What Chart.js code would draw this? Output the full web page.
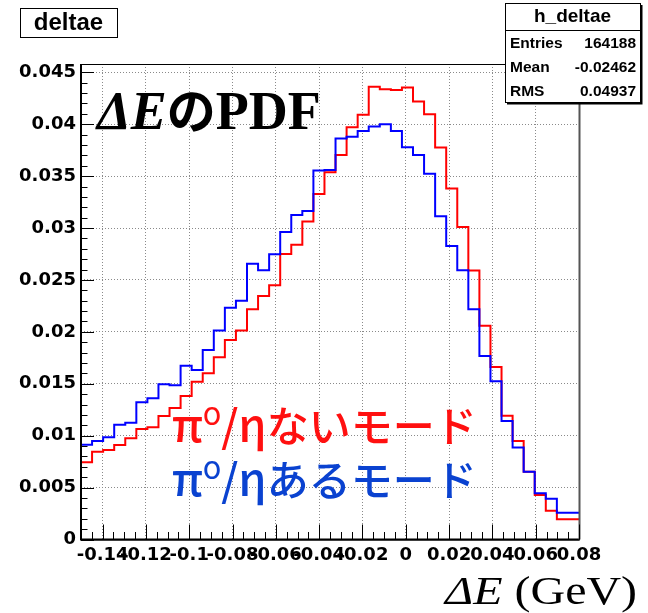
<!DOCTYPE html>
<html>
<head>
<meta charset="utf-8">
<script src="https://cdn.jsdelivr.net/npm/chart.js@4"></script>
<style>
  html, body { margin: 0; padding: 0; background: #fff; }
  canvas { display: block; }
</style>
</head>
<body>
<canvas id="deltae" width="648" height="613"></canvas>
<script>
// histogram binning (ROOT h_deltae): 45 bins from -0.15 to 0.08
const xMin = -0.15
const xMax = 0.08
const nBins = 45

// pi0/eta-less modes (red)
const noPi0Values = [
  0.00744, 0.00744, 0.00846, 0.00862, 0.0091, 0.00975, 0.01065, 0.01081, 0.0119, 0.01267,
  0.01382, 0.0152, 0.01601, 0.01755, 0.01922, 0.02012, 0.02218, 0.02346, 0.02449, 0.0275,
  0.0284, 0.03062, 0.03329, 0.03537, 0.03704, 0.03971, 0.0409, 0.04362, 0.04337, 0.0433,
  0.04353, 0.04218, 0.04096, 0.03775, 0.0338, 0.03011, 0.0259, 0.0206, 0.01662, 0.01193,
  0.00949, 0.00653, 0.00429, 0.00277, 0.00195
]
// pi0/eta modes (blue)
const withPi0Values = [
  0.00853, 0.00913, 0.00949, 0.00984, 0.01106, 0.01125, 0.01322, 0.0136, 0.01495, 0.01485,
  0.01674, 0.01633, 0.01826, 0.02012, 0.02233, 0.0230, 0.02657, 0.02593, 0.02748, 0.02962,
  0.03126, 0.03165, 0.03553, 0.0356, 0.03862, 0.0388, 0.03935, 0.03977, 0.04, 0.03935,
  0.03778, 0.03704, 0.03524, 0.03114, 0.02828, 0.02593, 0.02218, 0.01768, 0.01524, 0.01142,
  0.00885, 0.00653, 0.00445, 0.00393, 0.00258
]

const xTicks = [-0.14, -0.12, -0.1, -0.08, -0.06, -0.04, -0.02, 0, 0.02, 0.04, 0.06, 0.08]
const xTickLabels = ['-0.14', '-0.12', '-0.1', '-0.08', '-0.06', '-0.04', '-0.02', '0', '0.02', '0.04', '0.06', '0.08']
const yTicks = [0, 0.005, 0.01, 0.015, 0.02, 0.025, 0.03, 0.035, 0.04, 0.045]
const yTickLabels = ['0', '0.005', '0.01', '0.015', '0.02', '0.025', '0.03', '0.035', '0.04', '0.045']
const yMax = 0.0458

const statsRows = [['Entries', '164188'], ['Mean', '-0.02462'], ['RMS', '0.04937']]

// bin low edges + closing edge, for a stepped line
const binWidth = (xMax - xMin) / nBins
const toSteps = values => {
  const pts = values.map((v, i) => ({x: xMin + i * binWidth, y: v}))
  pts.push({x: xMax, y: values[values.length - 1]})
  return pts
}

const tickFont = {family: 'DejaVu Sans', weight: 'bold', size: 18}

// draw a run of differently styled text pieces, optionally stretched in x
const drawRuns = (ctx, x, y, runs, sx = 1) => {
  ctx.save()
  ctx.translate(x, y)
  ctx.scale(sx, 1)
  let cx = 0
  runs.forEach(r => {
    ctx.font = r.font
    ctx.fillStyle = r.color || '#000'
    ctx.fillText(r.text, cx, r.dy || 0)
    cx += ctx.measureText(r.text).width + (r.gap || 0)
  })
  ctx.restore()
}

const rootDecor = {
  id: 'rootDecor',
  beforeDraw(chart) {
    const ctx = chart.ctx
    ctx.save()
    ctx.fillStyle = '#fff'
    ctx.fillRect(0, 0, chart.width, chart.height)
    ctx.restore()
  },
  afterDatasetsDraw(chart) {
    const ctx = chart.ctx
    const {left, right, top, bottom} = chart.chartArea
    const xs = chart.scales.x
    const ys = chart.scales.y
    ctx.save()
    ctx.strokeStyle = '#000'
    // frame
    ctx.lineWidth = 1
    ctx.strokeRect(left + 0.5, top + 0.5, right - left, bottom - top)
    ctx.lineWidth = 2
    ctx.beginPath()
    ctx.moveTo(left, top); ctx.lineTo(left, bottom); ctx.lineTo(right, bottom)
    ctx.stroke()
    ctx.strokeStyle = '#555'
    ctx.beginPath()
    ctx.moveTo(right + 0.5, top); ctx.lineTo(right + 0.5, bottom)
    ctx.stroke()
    ctx.strokeStyle = '#000'
    // ticks drawn inward, ROOT style
    ctx.lineWidth = 1
    ctx.beginPath()
    for (let k = 0; k <= 46; k++) {
      const v = -0.15 + k * 0.005
      const px = Math.round(xs.getPixelForValue(v)) + 0.5
      const major = Math.abs(Math.round(v / 0.02) * 0.02 - v) < 1e-9
      ctx.moveTo(px, bottom)
      ctx.lineTo(px, bottom - (major ? 15 : 7.5))
    }
    for (let k = 0; k <= 45; k++) {
      const v = k * 0.001
      const py = Math.round(ys.getPixelForValue(v)) + 0.5
      ctx.moveTo(left, py)
      ctx.lineTo(left + (k % 5 === 0 ? 13 : 6.5), py)
    }
    ctx.stroke()

    // title box
    ctx.fillStyle = '#fff'
    ctx.fillRect(20, 8, 97, 29)
    ctx.strokeRect(20.5, 8.5, 97, 29)
    ctx.fillStyle = '#000'
    ctx.font = 'bold 24px "Liberation Sans"'
    ctx.textAlign = 'center'
    ctx.textBaseline = 'middle'
    ctx.fillText('deltae', 68.5, 23)

    // stats box
    ctx.fillStyle = '#fff'
    ctx.fillRect(505, 3, 135, 99)
    ctx.strokeRect(505.5, 3.5, 135, 99)
    ctx.lineWidth = 2
    ctx.beginPath()
    ctx.moveTo(507, 103.5); ctx.lineTo(641.5, 103.5); ctx.lineTo(641.5, 5)
    ctx.stroke()
    ctx.lineWidth = 1
    ctx.beginPath()
    ctx.moveTo(505, 30.5); ctx.lineTo(640, 30.5)
    ctx.stroke()
    ctx.fillStyle = '#000'
    ctx.font = 'bold 19px "Liberation Sans"'
    ctx.fillText('h_deltae', 572.5, 17)
    ctx.font = 'bold 15.5px "Liberation Sans"'
    statsRows.forEach((row, i) => {
      const cy = 44 + i * 24
      ctx.textAlign = 'left'
      ctx.fillText(row[0], 510, cy)
      ctx.textAlign = 'right'
      ctx.fillText(row[1], 636, cy)
    })

    // annotations
    ctx.textAlign = 'left'
    ctx.textBaseline = 'alphabetic'
    drawRuns(ctx, 97, 129, [
      {text: 'ΔE', font: 'italic bold 54px "Liberation Serif"'},
      {text: 'の', font: 'bold 49px "Noto Sans CJK JP"'},
      {text: 'PDF', font: 'bold 54px "Liberation Serif"'}
    ])
    const red = '#ff1010'
    const blue = '#0a42d0'
    const labelRuns = (color, kana) => [
      {text: 'π', font: '500 46px "Noto Sans CJK JP"', color},
      {text: 'O', font: '500 24px "Noto Sans CJK JP"', color, dy: -17},
      {text: '/', font: '500 44px "Noto Sans CJK JP"', color},
      {text: 'η', font: '500 46px "Noto Sans CJK JP"', color},
      {text: kana, font: '500 42px "Noto Sans CJK JP"', color}
    ]
    drawRuns(ctx, 172, 442, labelRuns(red, 'ないモード'))
    drawRuns(ctx, 172, 496, labelRuns(blue, 'あるモード'))

    // x axis title
    drawRuns(ctx, 445, 604, [
      {text: 'ΔE', font: 'italic 40px "Liberation Serif"'},
      {text: ' (GeV)', font: '40px "Liberation Serif"'}
    ], 1.2)
    ctx.restore()
  }
}

const ctx = document.querySelector('#deltae')
const deltaeChart = new Chart(ctx, {
  type: 'line',
  data: {
    datasets: [
      {
        label: 'π0/ηあるモード',
        data: toSteps(withPi0Values),
        borderColor: '#0000ff',
        borderWidth: 2,
        stepped: 'after',
        pointRadius: 0,
        fill: false
      },
      {
        label: 'π0/ηないモード',
        data: toSteps(noPi0Values),
        borderColor: '#ff0000',
        borderWidth: 2,
        stepped: 'after',
        pointRadius: 0,
        fill: false
      }
    ]
  },
  options: {
    responsive: false,
    animation: false,
    events: [],
    layout: {padding: {left: 0, right: 69, top: 64, bottom: 0}},
    plugins: {legend: {display: false}, tooltip: {enabled: false}},
    scales: {
      x: {
        type: 'linear',
        min: xMin,
        max: xMax,
        afterBuildTicks: s => { s.ticks = xTicks.map(v => ({value: v})) },
        afterFit: s => { s.height = 73.5 },
        ticks: {
          autoSkip: false,
          maxRotation: 0,
          padding: 5,
          color: '#000',
          font: tickFont,
          callback: v => xTickLabels[xTicks.findIndex(t => Math.abs(t - v) < 1e-9)]
        },
        grid: {color: '#8a8a8a', lineWidth: 1, drawTicks: false},
        border: {display: false, dash: [1, 2]}
      },
      y: {
        min: 0,
        max: yMax,
        afterBuildTicks: s => { s.ticks = yTicks.map(v => ({value: v})) },
        afterFit: s => { s.width = 81 },
        ticks: {
          padding: 5,
          color: '#000',
          font: tickFont,
          callback: v => yTickLabels[yTicks.findIndex(t => Math.abs(t - v) < 1e-9)]
        },
        grid: {color: '#8a8a8a', lineWidth: 1, drawTicks: false},
        border: {display: false, dash: [1, 2]}
      }
    }
  },
  plugins: [rootDecor]
})
</script>
</body>
</html>
